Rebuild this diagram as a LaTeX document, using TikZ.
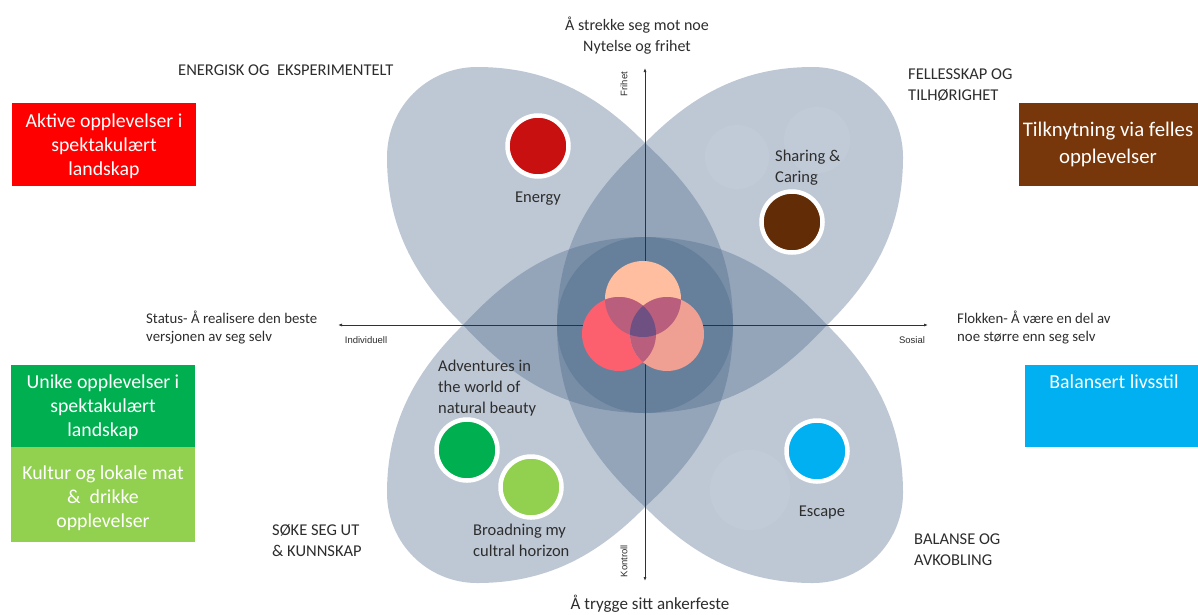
\documentclass[tikz,border=0pt]{standalone}
\usepackage{fontspec}
\setmainfont{Carlito}
\newfontfamily\arialf{Liberation Sans}
\usetikzlibrary{arrows.meta}
\definecolor{petalc}{RGB}{70,100,135}
\definecolor{txt}{RGB}{45,45,45}
\definecolor{axisc}{RGB}{50,50,50}
\definecolor{boxred}{RGB}{255,0,0}
\definecolor{boxbrown}{RGB}{120,55,10}
\definecolor{boxgreen}{RGB}{0,176,80}
\definecolor{boxlgreen}{RGB}{146,208,80}
\definecolor{boxblue}{RGB}{0,176,240}
\definecolor{dotred}{RGB}{200,16,16}
\definecolor{dotbrown}{RGB}{98,44,6}
\definecolor{venntop}{RGB}{255,190,160}
\definecolor{vennleft}{RGB}{252,96,110}
\definecolor{vennright}{RGB}{240,160,146}
\definecolor{vennpair}{RGB}{185,95,125}
\definecolor{venntriple}{RGB}{110,80,130}
\newcommand\myfs[2]{\fontsize{#1}{#2}\selectfont}
\tikzset{
  petalfill/.style={fill=petalc, fill opacity=0.35},
  axisline/.style={draw=axisc, line width=0.8pt, {Latex[length=4pt,width=3pt]}-{Latex[length=4pt,width=3pt]}},
  colbox/.style={inner sep=0pt, text=white, align=center, font=\myfs{19.8}{24}},
  heading/.style={text=txt, align=left, anchor=west, inner sep=0pt, font=\myfs{16.5}{21}},
  side/.style={text=txt, align=left, anchor=west, inner sep=0pt, font=\myfs{14.8}{18}},
  petallabel/.style={text=txt, align=left, inner sep=0pt, font=\myfs{16.5}{21}},
  axislabel/.style={text=txt, inner sep=0pt, font=\arialf\myfs{9.5}{11}},
  dot/.style={circle, minimum size=61pt, inner sep=0pt, draw=white, line width=4.5pt},
  faint/.style={fill=white, fill opacity=0.06}
}
\begin{document}
\begin{tikzpicture}[x=1pt,y=-1pt]
\useasboundingbox (0,0) rectangle (1198,614);
\fill[white] (0,0) rectangle (1198,614);

% petals (drawn as the upper-right petal, mirrored for the others)
\foreach \sx/\sy in {1/1,-1/1,1/-1,-1/-1}{
  \begin{scope}[shift={(645,325)},xscale=\sx,yscale=\sy]
    \fill[petalfill] (-88,0) .. controls (-88,-90) and (-45,-140) .. (0,-182)
      .. controls (49,-232) and (100,-258) .. (168,-258)
      .. controls (217.7,-258) and (258,-217.7) .. (258,-168)
      .. controls (258,-100) and (232,-49) .. (182,0)
      .. controls (140,45) and (88,88) .. (0,88)
      .. controls (-48.6,88) and (-88,48.6) .. (-88,0) -- cycle;
  \end{scope}
}
% faint circles in petals
\fill[faint] (737,157) circle (32);
\fill[faint] (817,140) circle (33);
\fill[faint] (750,490) circle (40);

% axes
\coordinate (top) at (645,68);
\coordinate (bot) at (645,581);
\coordinate (lft) at (338,325);
\coordinate (rgt) at (928,325);
\draw[axisline] (bot) -- (top);
\draw[axisline] (lft) -- (rgt);
\node[axislabel, rotate=90] (frihet) at (624,84) {Frihet};
\node[axislabel, rotate=90] (kontroll) at (624,561) {Kontroll};
\node[axislabel] (indiv) at (366,340) {Individuell};
\node[axislabel] (sosial) at (912,340) {Sosial};

% venn
\fill[venntop] (643,299) circle (38);
\fill[vennleft] (619,334) circle (37);
\fill[vennright] (667,334) circle (37);
\begin{scope}
  \clip (643,299) circle (38);
  \fill[vennpair] (619,334) circle (37);
  \fill[vennpair] (667,334) circle (37);
\end{scope}
\begin{scope}
  \clip (619,334) circle (37);
  \fill[vennpair] (667,334) circle (37);
\end{scope}
\begin{scope}
  \clip (643,299) circle (38);
  \clip (619,334) circle (37);
  \fill[venntriple] (667,334) circle (37);
\end{scope}

% dots
\node[dot, fill=dotred] (energy) at (538,146) {};
\node[dot, fill=dotbrown] (sharing) at (792,222) {};
\node[dot, fill=boxblue] (escape) at (817,451) {};
\node[dot, fill=boxgreen] (advent) at (467,450) {};
\node[dot, fill=boxlgreen] (broad) at (531,487) {};

\node[petallabel] (energyl) at (538,199) {Energy};
\node[petallabel, anchor=west] (sharingl) at (775,168) {Sharing \&\\Caring};
\node[petallabel] (escapel) at (822,513) {Escape};
\node[petallabel, anchor=west] (adventl) at (438,388) {Adventures in\\the world of\\natural beauty};
\node[petallabel, anchor=west] (broadl) at (473,540) {Broadning my\\cultral horizon};

% titles
\node[text=txt, align=center, inner sep=0pt, font=\myfs{16}{21}] (toptitle) at (637,36) {Å strekke seg mot noe\\Nytelse og frihet};
\node[text=txt, inner sep=0pt, font=\myfs{17}{21}] (bottitle) at (650,604) {Å trygge sitt ankerfeste};
\node[heading] (energisk) at (178,70) {ENERGISK OG~ EKSPERIMENTELT};
\node[heading] (felles) at (908,85) {FELLESSKAP OG\\TILHØRIGHET};
\node[heading] (soke) at (272,541) {SØKE SEG UT\\\& KUNNSKAP};
\node[heading] (balanse) at (914,550) {BALANSE OG\\AVKOBLING};
\node[side] (status) at (146,328) {Status- Å realisere den beste\\versjonen av seg selv};
\node[side] (flokken) at (957,328) {Flokken- Å være en del av\\noe større enn seg selv};

% boxes
\fill[boxred] (12,103) rectangle (196,186);
\node[colbox] (aktive) at (104,146) {Aktive opplevelser i\\spektakulært\\landskap};
\fill[boxbrown] (1019,103) rectangle (1198,186);
\node[colbox, font=\myfs{20.8}{27}] (tilkn) at (1108,144) {Tilknytning via felles\\opplevelser};
\fill[boxgreen] (11,365) rectangle (195,447);
\node[colbox] (unike) at (103,407) {Unike opplevelser i\\spektakulært\\landskap};
\fill[boxlgreen] (11,447) rectangle (195,542);
\node[colbox] (kultur) at (103,498) {Kultur og lokale mat\\\&~ drikke\\opplevelser};
\fill[boxblue] (1025,365) rectangle (1198,447);
\node[colbox] (balansert) at (1114,382) {Balansert livsstil};
\end{tikzpicture}
\end{document}
